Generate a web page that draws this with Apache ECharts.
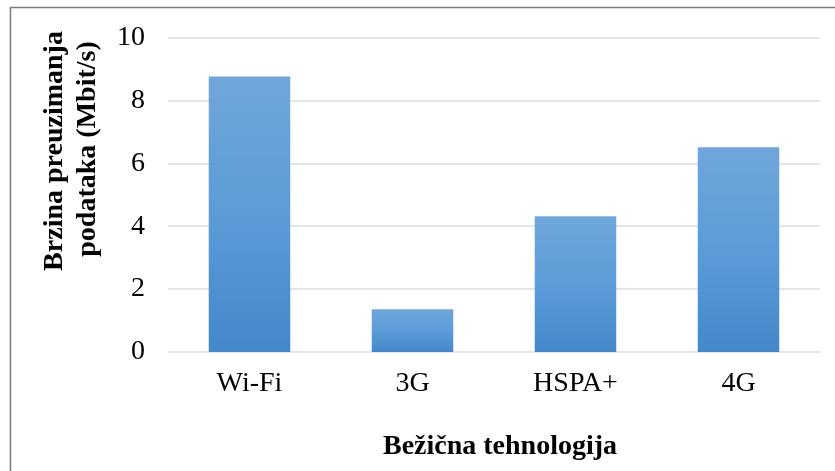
<!DOCTYPE html>
<html>
<head>
<meta charset="utf-8">
<script src="https://cdn.jsdelivr.net/npm/echarts@6/dist/echarts.min.js"></script>
<style>
  html, body { margin: 0; padding: 0; background: #fff; }
  #chart { width: 835px; height: 471px; }
</style>
</head>
<body>
<div id="chart"></div>
<script>
// Download speed per wireless technology
const categories = ['Wi-Fi', '3G', 'HSPA+', '4G'];
const speeds = [8.76, 1.36, 4.32, 6.51];
const yTicks = { min: 0, max: 10, interval: 2 };
const xTitle = 'Bežična tehnologija';
const yTitleLines = ['Brzina preuzimanja', 'podataka (Mbit/s)'];

const serif = '"Liberation Serif", "Times New Roman", serif';
const titleStyle = { fill: '#000', font: 'bold 28px ' + serif, textAlign: 'center', textVerticalAlign: 'middle' };

const chart = echarts.init(document.getElementById('chart'));
chart.setOption({
  animation: false,
  backgroundColor: '#ffffff',
  graphic: [
    {
      type: 'rect',
      shape: { x: 10.5, y: 7.5, width: 900, height: 500 },
      style: { fill: 'none', stroke: '#7a7a7a', lineWidth: 1.5 },
      silent: true
    },
    // two-line vertical axis title, reading bottom to top
    {
      type: 'text', x: 55, y: 151, rotation: Math.PI / 2,
      style: Object.assign({ text: yTitleLines[0] }, titleStyle), silent: true
    },
    {
      type: 'text', x: 88, y: 149, rotation: Math.PI / 2,
      style: Object.assign({ text: yTitleLines[1] }, titleStyle), silent: true
    }
  ],
  grid: { left: 168, right: 15, top: 37.5, bottom: 119 },
  xAxis: {
    type: 'category',
    data: categories,
    axisLine: { show: false },
    axisTick: { show: false },
    axisLabel: { color: '#000', fontFamily: serif, fontSize: 28, margin: 18 },
    name: xTitle,
    nameLocation: 'middle',
    nameGap: 81,
    nameTextStyle: { color: '#000', fontFamily: serif, fontSize: 28, fontWeight: 'bold', padding: [0, 0, 0, 12] }
  },
  yAxis: {
    type: 'value',
    min: yTicks.min,
    max: yTicks.max,
    interval: yTicks.interval,
    axisLine: { show: false },
    axisTick: { show: false },
    splitLine: { lineStyle: { color: '#d9dde4', width: 1.5 } },
    axisLabel: { color: '#000', fontFamily: serif, fontSize: 28, margin: 23 }
  },
  series: [{
    type: 'bar',
    data: speeds,
    barCategoryGap: '50%',
    itemStyle: {
      color: new echarts.graphic.LinearGradient(0, 0, 0, 1, [
        { offset: 0, color: '#70a6db' },
        { offset: 0.5, color: '#5b9cd8' },
        { offset: 1, color: '#4488ca' }
      ])
    }
  }]
});
</script>
</body>
</html>
